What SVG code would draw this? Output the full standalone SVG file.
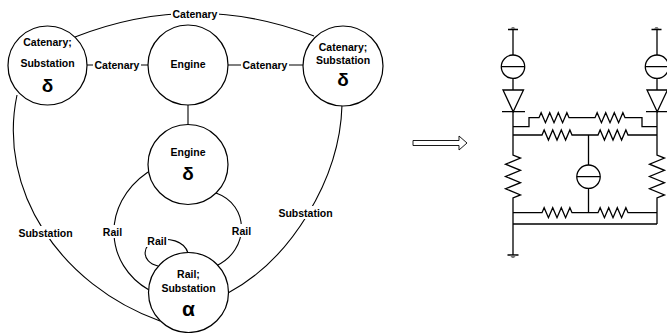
<svg xmlns="http://www.w3.org/2000/svg" width="667" height="333" viewBox="0 0 667 333">
<style>
.e{fill:none;stroke:#000;stroke-width:1.1}
.n{fill:#fff;stroke:#000;stroke-width:1.2}
.t{font-family:"Liberation Sans",Arial,sans-serif;font-weight:bold;font-size:10.5px;fill:#000;text-anchor:middle}
.g{font-family:"Liberation Sans",Arial,sans-serif;font-weight:bold;font-size:19px;fill:#000;text-anchor:middle}
.bg{fill:#fff;stroke:none}
.w{fill:none;stroke:#000;stroke-width:1.3;stroke-linejoin:miter}
.wf{fill:#fff;stroke:#000;stroke-width:1.3}
</style>
<rect width="667" height="333" fill="#fff"/>
<g id="connectors">
<path class="e" d="M75 37 Q195 -10 314 36"/>
<path class="e" d="M87 65 H148"/>
<path class="e" d="M228 65 H303"/>
<path class="e" d="M188 105 V125"/>
<path class="e" d="M17 95 C-3 190 60 285 160 321"/>
<path class="e" d="M342 105 C340 180 290 260 228 293"/>
<path class="e" d="M148 172 C100 205 105 265 149 290"/>
<path class="e" d="M216 193 C250 205 250 250 216 266"/>
<path class="e" d="M188 253 C184 240 168 238 157 240 C142 243 140 262 158 266"/>
<rect class="bg" x="171" y="8" width="48" height="12"/>
<text class="t" x="195" y="17.8">Catenary</text>
<rect class="bg" x="93" y="59" width="48" height="12"/>
<text class="t" x="117" y="68.5">Catenary</text>
<rect class="bg" x="241" y="59" width="48" height="12"/>
<text class="t" x="265" y="68.5">Catenary</text>
<rect class="bg" x="17" y="226" width="57" height="13"/>
<text class="t" x="45.5" y="236.5">Substation</text>
<rect class="bg" x="277" y="206" width="57" height="13"/>
<text class="t" x="305.5" y="216.5">Substation</text>
<rect class="bg" x="102" y="225" width="21" height="13"/>
<text class="t" x="112.5" y="236">Rail</text>
<rect class="bg" x="231" y="224" width="21" height="13"/>
<text class="t" x="241.5" y="235">Rail</text>
<rect class="bg" x="146" y="234" width="22" height="13"/>
<text class="t" x="157" y="245">Rail</text>
</g>
<g id="node-left">
<circle class="n" cx="47.5" cy="65.5" r="39.5"/>
<text class="t" x="47.5" y="45.5">Catenary;</text>
<text class="t" x="47.5" y="67">Substation</text>
<text class="g" x="47.5" y="92">δ</text>
</g>
<g id="node-engine">
<circle class="n" cx="188" cy="65" r="40"/>
<text class="t" x="188" y="68">Engine</text>
</g>
<g id="node-right">
<circle class="n" cx="343" cy="66" r="40"/>
<text class="t" x="343" y="51">Catenary;</text>
<text class="t" x="343" y="64">Substation</text>
<text class="g" x="343" y="86">δ</text>
</g>
<g id="node-engine-delta">
<circle class="n" cx="188" cy="164.5" r="40"/>
<text class="t" x="188" y="156">Engine</text>
<text class="g" x="188" y="180">δ</text>
</g>
<g id="node-rail">
<circle class="n" cx="188.5" cy="292.5" r="40"/>
<text class="t" x="188.5" y="277.5">Rail;</text>
<text class="t" x="188.5" y="291.5">Substation</text>
<text class="g" x="188.5" y="315.5" style="font-size:21px">α</text>
</g>
<g id="arrow">
<polygon points="413,140.5 459,140.5 459,136 467,143 459,150 459,145.5 413,145.5" fill="#fff" stroke="#000" stroke-width="0.9"/>
</g>
<g id="circuit">
<!-- grounds -->
<path class="w" d="M508 29.5 H518 M651.5 29.5 H661.5 M507.5 255 H518.5"/>
<polygon points="510.5,29 515.5,29 514,27 512,27" fill="#777"/>
<polygon points="654,29 659,29 657.5,27 655.5,27" fill="#777"/>
<polygon points="510,255.5 516,255.5 514,258 512,258" fill="#777"/>
<!-- left branch -->
<path class="w" d="M513 29.5 V55"/>
<circle class="wf" cx="513" cy="66.7" r="11.7"/>
<path class="w" d="M501.3 66.7 H524.7 M513 78.4 V90"/>
<polygon class="wf" points="503,90 523.5,90 513.2,111.7"/>
<path class="w" d="M502 111.7 H525 M513 111.7 V155 l7.5 3.07 l-15 6.14 l15 6.14 l-15 6.14 l15 6.14 l-15 6.14 l15 6.14 l-7.5 3.07 V255"/>
<!-- right branch -->
<path class="w" d="M657 29.5 V55"/>
<circle class="wf" cx="657" cy="66.7" r="11.7"/>
<path class="w" d="M645.3 66.7 H668.7 M657 78.4 V90"/>
<polygon class="wf" points="647,90 667.5,90 657.2,111.7"/>
<path class="w" d="M646 111.7 H668 M657 111.7 V155 l7.5 3.07 l-15 6.14 l15 6.14 l-15 6.14 l15 6.14 l-15 6.14 l15 6.14 l-7.5 3.07 V224"/>
<!-- row 1 -->
<path class="w" d="M513 126.7 H529 V117.7 H539 l2.14 -5 l4.29 10 l4.29 -10 l4.29 10 l4.29 -10 l4.29 10 l4.29 -10 l2.14 5 H595 l2.14 -5 l4.29 10 l4.29 -10 l4.29 10 l4.29 -10 l4.29 10 l4.29 -10 l2.14 5 H642 V126.7 H657"/>
<!-- row 2 -->
<path class="w" d="M513 135 H542 l2.14 -5 l4.29 10 l4.29 -10 l4.29 10 l4.29 -10 l4.29 10 l4.29 -10 l2.14 5 H598 l2.14 -5 l4.29 10 l4.29 -10 l4.29 10 l4.29 -10 l4.29 10 l4.29 -10 l2.14 5 H657"/>
<!-- middle source -->
<path class="w" d="M588.5 135 V165"/>
<circle class="wf" cx="588.5" cy="176.7" r="11.7"/>
<path class="w" d="M576.8 176.7 H600.2 M588.5 188.4 V212.7"/>
<!-- row 3 -->
<path class="w" d="M513 212.7 H542 l2.14 -5 l4.29 10 l4.29 -10 l4.29 10 l4.29 -10 l4.29 10 l4.29 -10 l2.14 5 H598 l2.14 -5 l4.29 10 l4.29 -10 l4.29 10 l4.29 -10 l4.29 10 l4.29 -10 l2.14 5 H657"/>
<!-- row 4 -->
<path class="w" d="M513 224 H657"/>
</g>
</svg>
